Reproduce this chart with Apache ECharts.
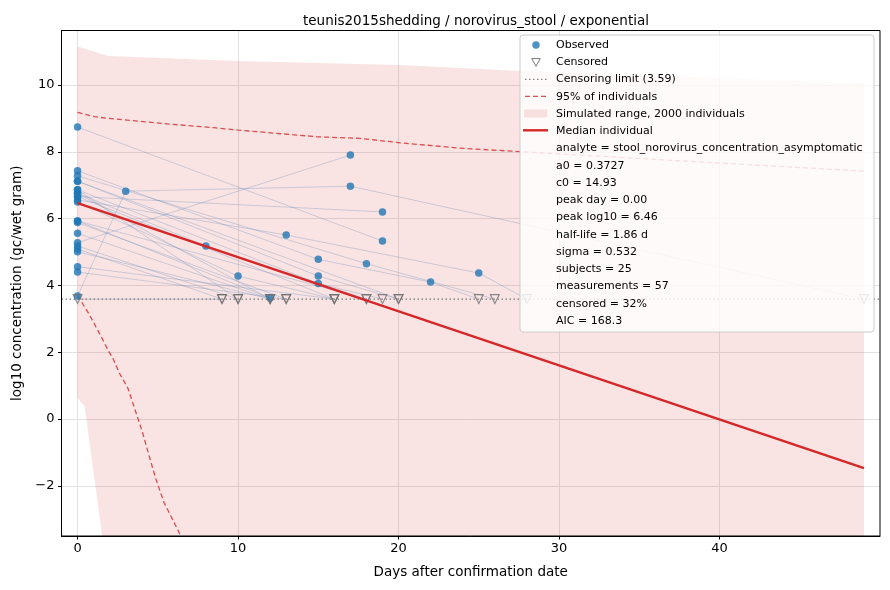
<!DOCTYPE html>
<html>
<head>
<meta charset="utf-8">
<script src="https://cdn.jsdelivr.net/npm/echarts@6/dist/echarts.min.js"></script>
<style>
  html, body { margin: 0; padding: 0; background: #fff; }
  #chart { width: 890px; height: 590px; }
</style>
</head>
<body>
<div id="chart"></div>
<script>
// censoring limit (log10)
const LOD = 3.59;

// per-subject measurements: [day, log10 value, censored 0/1]
const subjects = [
    [[0, 8.74], [19, 5.33]],
    [[0, 3.68], [3, 6.82], [17, 6.97], [49, LOD, 1]],
    [[0, 5.28], [17, 7.90]],
    [[0, 6.66], [19, 6.20]],
    [[0, 6.56], [13, 5.51], [25, 4.37], [28, LOD, 1]],
    [[0, 7.43], [15, 4.78], [22, 4.10], [25, LOD, 1]],
    [[0, 7.28], [18, 4.65], [26, LOD, 1]],
    [[0, 7.12], [15, 4.28], [20, LOD, 1]],
    [[0, 6.86], [15, 4.06], [19, LOD, 1]],
    [[0, 6.76], [8, 5.18], [18, LOD, 1]],
    [[0, 6.50], [10, 4.28], [16, LOD, 1]],
    [[0, 5.93], [12, 3.62]],
    [[0, 5.88], [13, LOD, 1]],
    [[0, 5.56], [12, LOD, 1]],
    [[0, 5.18], [10, LOD, 1]],
    [[0, 5.09], [9, LOD, 1]],
    [[0, 5.01], [12, LOD, 1]],
    [[0, 4.56], [16, LOD, 1]],
    [[0, 4.40], [13, LOD, 1]],
    [[0, LOD, 1], [9, LOD, 1]],
    [[0, 6.86], [10, LOD, 1]],
    [[0, 6.76], [12, LOD, 1]],
    [[0, 6.66], [16, LOD, 1]],
    [[0, 7.12], [20, LOD, 1]],
    [[0, 5.93], [18, LOD, 1]]
];

// simulated range (2000 individuals)
const bandUpperDays = [0, 1.9, 10, 20, 27.6, 35, 42, 49];
const bandUpperVals = [11.15, 10.87, 10.72, 10.60, 10.42, 10.30, 10.17, 10.05];
const bandLowerDays = [0, 0.44, 1.55, 3, 49];
const bandLowerVals = [0.63, 0.38, -3.55, -6.0, -6.0];

// 95% of individuals
const hiDays = [0, 1.06, 1.89, 5.2, 8.5, 10, 14.9, 17.6, 20.3, 23.8, 27.35, 35, 42, 49];
const hiVals = [9.18, 9.05, 9.0, 8.85, 8.72, 8.65, 8.45, 8.40, 8.26, 8.11, 8.01, 7.80, 7.61, 7.42];
const loDays = [0, 0.68, 1.47, 1.89, 2.2, 2.6, 3.13, 3.65, 4.06, 4.47, 4.89, 5.4, 5.82, 6.34, 6.6];
const loVals = [3.70, 3.17, 2.47, 2.07, 1.82, 1.38, 0.93, 0.18, -0.42, -1.12, -1.81, -2.51, -2.91, -3.41, -3.8];

// median individual
const medianDays = [0, 49];
const medianVals = [6.46, -1.47];

const xTicks = [0, 10, 20, 30, 40];
const yTicks = [-2, 0, 2, 4, 6, 8, 10];

const legendLines = [
    'analyte = stool_norovirus_concentration_asymptomatic',
    'a0 = 0.3727',
    'c0 = 14.93',
    'peak day = 0.00',
    'peak log10 = 6.46',
    'half-life = 1.86 d',
    'sigma = 0.532',
    'subjects = 25',
    'measurements = 57',
    'censored = 32%',
    'AIC = 168.3'
];

const FONT = '"DejaVu Sans", "Liberation Sans", sans-serif';
const RED = '#d62728';
const BLUE = '#1f77b4';

var chart = echarts.init(document.getElementById('chart'), null, { renderer: 'canvas' });

function zip(xs, ys) {
    return xs.map(function (x, i) { return [x, ys[i]]; });
}

var observed = [], censored = [];
subjects.forEach(function (s) {
    s.forEach(function (p) {
        if (p[2]) censored.push([p[0], p[1]]);
        else observed.push([p[0], p[1]]);
    });
});

var subjectSeries = subjects.map(function (s) {
    return {
        type: 'line',
        data: s.map(function (p) { return [p[0], p[1]]; }),
        showSymbol: false,
        silent: true,
        lineStyle: { color: 'rgba(70,125,180,0.3)', width: 0.9 },
        z: 2
    };
});

// legend (drawn as graphic so the parameter rows fit)
var LX = 520, LY = 35, ROW = 17.25, TX = 556, SX = 536;
var legendG = [
    { type: 'rect', shape: { x: LX, y: LY, width: 354, height: 297, r: 3 },
      style: { fill: 'rgba(255,255,255,0.82)', stroke: '#cccccc', lineWidth: 1 }, z: 100 },
    { type: 'circle', shape: { cx: SX, cy: 45, r: 3.7 }, style: { fill: BLUE, opacity: 0.8 }, z: 101 },
    { type: 'polygon', shape: { points: [[SX - 4.3, 58.6], [SX + 4.3, 58.6], [SX, 66.2]] },
      style: { fill: 'none', stroke: '#777', lineWidth: 1 }, z: 101 },
    { type: 'line', shape: { x1: 525, y1: 79.3, x2: 547, y2: 79.3 },
      style: { stroke: '#808080', lineWidth: 1.2, lineDash: [1.5, 2.5] }, z: 101 },
    { type: 'line', shape: { x1: 525, y1: 96.3, x2: 547, y2: 96.3 },
      style: { stroke: RED, opacity: 0.8, lineWidth: 1.3, lineDash: [5, 3] }, z: 101 },
    { type: 'rect', shape: { x: 524, y: 109.5, width: 23, height: 8 },
      style: { fill: 'rgba(214,39,40,0.13)' }, z: 101 },
    { type: 'line', shape: { x1: 523, y1: 130.3, x2: 548, y2: 130.3 },
      style: { stroke: RED, lineWidth: 2.4 }, z: 101 }
];
var legendTexts = ['Observed', 'Censored', 'Censoring limit (3.59)', '95% of individuals',
    'Simulated range, 2000 individuals', 'Median individual'].concat(legendLines);
legendTexts.forEach(function (t, i) {
    legendG.push({
        type: 'text', z: 101,
        style: { text: t, x: TX, y: 45 + i * ROW, fill: '#000', fontSize: 11,
                 fontFamily: FONT, verticalAlign: 'middle' }
    });
});
// axes frame
legendG.push({ type: 'rect', shape: { x: 61.5, y: 30.5, width: 818.5, height: 505.5 },
    style: { fill: 'none', stroke: '#000', lineWidth: 1 }, z: 50 });

option = {
    backgroundColor: '#fff',
    animation: false,
    title: {
        text: 'teunis2015shedding / norovirus_stool / exponential',
        left: 471,
        top: 9,
        textAlign: 'center',
        textStyle: { fontSize: 13.5, fontWeight: 'normal', color: '#000', fontFamily: FONT }
    },
    grid: { left: 61.5, right: 10, top: 30.5, bottom: 54, containLabel: false },
    xAxis: {
        type: 'value',
        min: -1,
        max: 50,
        name: 'Days after confirmation date',
        nameLocation: 'middle',
        nameGap: 29,
        nameTextStyle: { fontSize: 13.5, color: '#000', fontFamily: FONT },
        axisLine: { show: true, onZero: false, lineStyle: { color: '#000', width: 1 } },
        axisTick: { show: true, customValues: xTicks, length: 3.5, lineStyle: { color: '#000' } },
        axisLabel: { customValues: xTicks, fontSize: 13, color: '#000', margin: 6, fontFamily: FONT },
        splitLine: { show: true, lineStyle: { color: '#e2e2e2', width: 1 } }
    },
    yAxis: {
        type: 'value',
        min: -3.5,
        max: 11.63,
        splitNumber: 7,
        name: 'log10 concentration (gc/wet gram)',
        nameLocation: 'middle',
        nameGap: 34,
        nameTextStyle: { fontSize: 13.5, color: '#000', fontFamily: FONT },
        axisLine: { show: true, onZero: false, lineStyle: { color: '#000', width: 1 } },
        axisTick: { show: true, customValues: yTicks, length: 3.5, lineStyle: { color: '#000' } },
        axisLabel: {
            customValues: yTicks, fontSize: 13, color: '#000', margin: 7, fontFamily: FONT,
            formatter: function (v) { return v < 0 ? '\u2212' + Math.abs(v) : String(v); }
        },
        splitLine: { show: true, lineStyle: { color: '#e2e2e2', width: 1 } }
    },
    graphic: legendG,
    series: [{
            type: 'custom',
            clip: true,
            silent: true,
            data: [0],
            z: 1,
            renderItem: function (params, api) {
                var pts = [];
                for (var i = 0; i < bandUpperDays.length; i++) pts.push(api.coord([bandUpperDays[i], bandUpperVals[i]]));
                for (var j = bandLowerDays.length - 1; j >= 0; j--) pts.push(api.coord([bandLowerDays[j], bandLowerVals[j]]));
                return { type: 'polygon', shape: { points: pts }, style: { fill: 'rgba(214,39,40,0.13)' } };
            }
        }].concat(subjectSeries).concat([
        {
            name: '95% of individuals',
            type: 'line',
            data: zip(hiDays, hiVals),
            showSymbol: false,
            lineStyle: { color: RED, opacity: 0.8, width: 1.3, type: [5, 3] },
            z: 3
        },
        {
            type: 'line',
            data: zip(loDays, loVals),
            showSymbol: false,
            lineStyle: { color: RED, opacity: 0.8, width: 1.3, type: [5, 3] },
            z: 3
        },
        {
            name: 'Censoring limit',
            type: 'line',
            data: [[-1, LOD], [50, LOD]],
            showSymbol: false,
            lineStyle: { color: '#7a7a7a', width: 1.4, type: [1.5, 2.5] },
            z: 3
        },
        {
            name: 'Observed',
            type: 'scatter',
            data: observed,
            symbolSize: 7.5,
            itemStyle: { color: BLUE, opacity: 0.8 },
            z: 4
        },
        {
            name: 'Censored',
            type: 'scatter',
            data: censored,
            symbol: 'triangle',
            symbolRotate: 180,
            symbolSize: 9,
            itemStyle: { color: 'rgba(255,255,255,0)', borderColor: '#707070', borderWidth: 1.1 },
            z: 4
        },
        {
            name: 'Median individual',
            type: 'line',
            data: zip(medianDays, medianVals),
            showSymbol: false,
            lineStyle: { color: RED, width: 2.4 },
            z: 5
        }
    ])
};

chart.setOption(option);

window.onresize = function () {
    chart.resize();
};
</script>
</body>
</html>
